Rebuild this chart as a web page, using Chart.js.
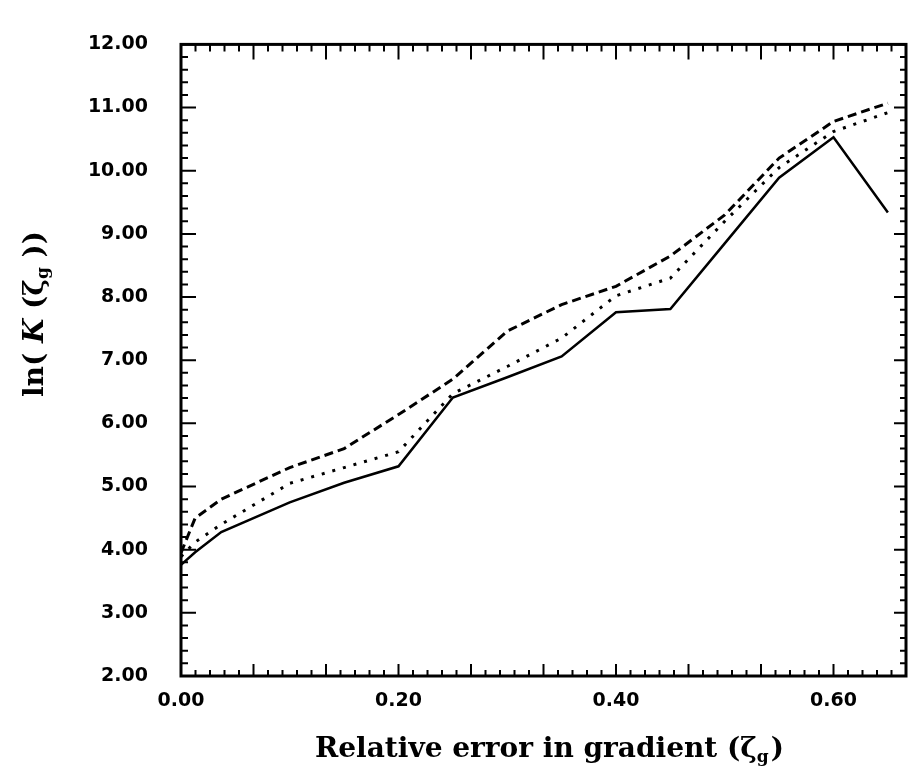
<!DOCTYPE html>
<html>
<head>
<meta charset="utf-8">
<script src="https://cdn.jsdelivr.net/npm/chart.js@4"></script>
<style>
  html, body { margin: 0; padding: 0; background: #fff; }
  #chart { display: block; }
</style>
</head>
<body>
<canvas id="chart" width="909" height="781"></canvas>
<script>
// relative error in gradient (x) and ln K values
const xValues = [0, 0.013, 0.037, 0.10, 0.15, 0.20, 0.25, 0.30, 0.35, 0.40, 0.45, 0.50, 0.55, 0.60, 0.65];
const solidValues = [3.76, 3.96, 4.28, 4.75, 5.06, 5.32, 6.41, 6.73, 7.06, 7.76, 7.81, 8.85, 9.89, 10.53, 9.34];
const dottedValues = [3.89, 4.12, 4.40, 5.05, 5.30, 5.55, 6.47, 6.90, 7.35, 8.02, 8.30, 9.20, 10.05, 10.62, 10.92];
const dashedValues = [3.95, 4.50, 4.80, 5.30, 5.60, 6.14, 6.70, 7.46, 7.88, 8.17, 8.65, 9.30, 10.20, 10.78, 11.07];

const xTickValues = [0, 0.2, 0.4, 0.6];
const yTickValues = [2, 3, 4, 5, 6, 7, 8, 9, 10, 11, 12];

const X_MAX = 2 / 3;
const tickFont = { family: "DejaVu Sans", weight: "bold", size: 19 };

function points(values) {
  return xValues.map((x, i) => ({ x: x, y: values[i] }));
}

// inward tick marks on all four sides plus the frame and axis titles
const framePlugin = {
  id: "frame",
  afterDatasetsDraw(chart) {
    const { ctx, chartArea: a, scales } = chart;
    ctx.save();
    ctx.strokeStyle = "#000";
    ctx.lineWidth = 3;
    ctx.strokeRect(a.left, a.top, a.right - a.left, a.bottom - a.top);

    ctx.lineWidth = 2;
    ctx.beginPath();
    for (let i = 0; i <= 50; i++) {
      const px = scales.x.getPixelForValue((i * X_MAX) / 50);
      const big = i % 5 === 0;
      ctx.moveTo(px, a.top);
      ctx.lineTo(px, a.top + (big ? 15 : 7));
      ctx.moveTo(px, a.bottom);
      ctx.lineTo(px, a.bottom - (big ? 12 : 6));
    }
    for (let i = 0; i <= 50; i++) {
      const py = scales.y.getPixelForValue(2 + i * 0.2);
      const big = i % 5 === 0;
      ctx.moveTo(a.left, py);
      ctx.lineTo(a.left + (big ? 15 : 7), py);
      ctx.moveTo(a.right, py);
      ctx.lineTo(a.right - (big ? 12 : 6), py);
    }
    ctx.stroke();

    ctx.fillStyle = "#000";
    ctx.textBaseline = "alphabetic";
    const big = 'bold 28px "DejaVu Serif"';
    const small = 'bold 17px "DejaVu Serif"';

    // x title
    ctx.font = big;
    const xa = "Relative error in gradient (ζ";
    const xc = ")";
    const wa = ctx.measureText(xa).width;
    const wc = ctx.measureText(xc).width;
    ctx.font = small;
    const wg = ctx.measureText("g").width;
    let x = (a.left + a.right) / 2 + 6 - (wa + wg + 2 + wc) / 2;
    const yb = 757;
    ctx.font = big;
    ctx.fillText(xa, x, yb);
    ctx.font = small;
    ctx.fillText("g", x + wa, yb + 5);
    ctx.font = big;
    ctx.fillText(xc, x + wa + wg + 2, yb);

    // y title, rotated
    ctx.translate(43, 314);
    ctx.rotate(-Math.PI / 2);
    const parts = [
      ["ln( ", big],
      ["K", 'italic bold 28px "DejaVu Serif"'],
      [" (ζ", big],
      ["g", small, 5],
      [" ))", big],
    ];
    let total = 0;
    parts.forEach((p) => {
      ctx.font = p[1];
      total += ctx.measureText(p[0]).width;
    });
    let cx = -total / 2;
    parts.forEach((p) => {
      ctx.font = p[1];
      ctx.fillText(p[0], cx, p[2] || 0);
      cx += ctx.measureText(p[0]).width;
    });
    ctx.restore();
  },
};

new Chart(document.getElementById("chart"), {
  type: "line",
  data: {
    datasets: [
      {
        label: "solid",
        data: points(solidValues),
        borderColor: "#000",
        borderWidth: 2.5,
        pointRadius: 0,
        tension: 0,
      },
      {
        label: "dotted",
        data: points(dottedValues),
        borderColor: "#000",
        borderWidth: 3,
        borderDash: [3, 8],
        pointRadius: 0,
        tension: 0,
      },
      {
        label: "dashed",
        data: points(dashedValues),
        borderColor: "#000",
        borderWidth: 3,
        borderDash: [9, 5],
        pointRadius: 0,
        tension: 0,
      },
    ],
  },
  options: {
    responsive: false,
    animation: false,
    layout: { padding: { top: 18, right: 3, left: 0, bottom: 0 } },
    plugins: {
      legend: { display: false },
      tooltip: { enabled: false },
    },
    scales: {
      x: {
        type: "linear",
        min: 0,
        max: X_MAX,
        afterBuildTicks: (axis) => {
          axis.ticks = xTickValues.map((v) => ({ value: v }));
        },
        afterFit: (s) => {
          s.height = 105;
        },
        grid: { display: false, drawTicks: false },
        border: { display: false },
        ticks: {
          autoSkip: false,
          maxRotation: 0,
          padding: 14,
          color: "#000",
          font: tickFont,
          callback: (v) => Number(v).toFixed(2),
        },
      },
      y: {
        type: "linear",
        min: 2,
        max: 12,
        afterBuildTicks: (axis) => {
          axis.ticks = yTickValues.map((v) => ({ value: v }));
        },
        afterFit: (s) => {
          s.width = 181;
        },
        grid: { display: false, drawTicks: false },
        border: { display: false },
        ticks: {
          padding: 33,
          color: "#000",
          font: tickFont,
          callback: (v) => Number(v).toFixed(2),
        },
      },
    },
  },
  plugins: [framePlugin],
});
</script>
</body>
</html>
